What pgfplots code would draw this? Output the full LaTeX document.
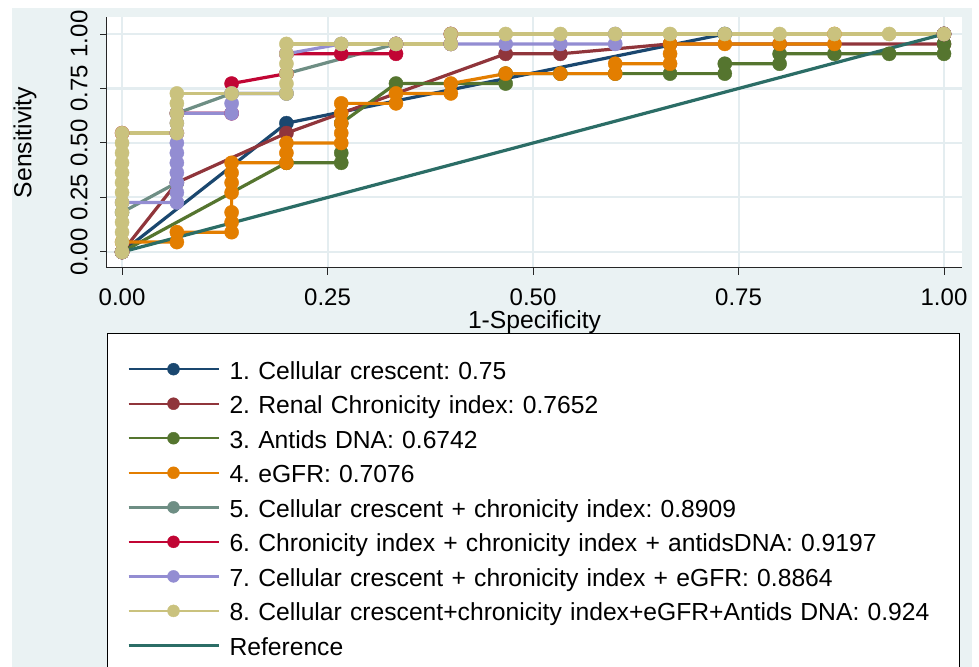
\documentclass[border=0pt]{standalone}
\usepackage{pgfplots}
\pgfplotsset{compat=1.18}
\usepackage{fontspec}
\setmainfont{Liberation Sans}
\definecolor{c1}{HTML}{1A476F}
\definecolor{c2}{HTML}{90353B}
\definecolor{c3}{HTML}{55752F}
\definecolor{c4}{HTML}{E37E00}
\definecolor{c5}{HTML}{6E8E84}
\definecolor{c6}{HTML}{C10534}
\definecolor{c7}{HTML}{938DD2}
\definecolor{c8}{HTML}{CAC27E}
\definecolor{cref}{HTML}{2B6D66}
\definecolor{bgc}{HTML}{EAF2F3}
\definecolor{gridc}{HTML}{E4EDF0}
\tikzset{roc/.style={line width=2.4pt, mark=*, mark size=5.3pt, color=#1, mark options={solid, fill=#1, draw=#1, line width=0.3pt}}}
\begin{document}
\frenchspacing
\begin{tikzpicture}
\path[use as bounding box] (0,0) rectangle (734.25pt,500.25pt);
\fill[white] (0,0) rectangle (734.25pt,500.25pt);
\fill[bgc] (9pt,-40pt) rectangle (729pt,494.25pt);
\begin{axis}[
  at={(80.25pt,299.25pt)}, anchor=south west,
  scale only axis, width=641.25pt, height=188.25pt,
  xmin=-0.0183, xmax=1.0219, ymin=-0.0734, ymax=1.078,
  axis background/.style={fill=white},
  axis x line*=bottom, axis y line*=left,
  axis line style={line width=0.75pt, black!85},
  tick align=outside, major tick length=5pt,
  every tick/.style={line width=0.75pt, black!85},
  xtick={0,0.25,0.5,0.75,1}, ytick={0,0.25,0.5,0.75,1},
  xticklabels={0.00,0.25,0.50,0.75,1.00},
  yticklabels={0.00,0.25,0.50,0.75,1.00},
  /pgf/number format/assume math mode=true,
  ticklabel style={font=\fontsize{18pt}{21pt}\selectfont},
  yticklabel style={rotate=90, anchor=south},
  yticklabel shift=6pt, xticklabel shift=7pt,
  grid=major, major grid style={color=gridc, line width=1.5pt},
  every axis y label/.style={at={(axis description cs:-0.0959,0.5)}, rotate=90, anchor=center, font=\fontsize{18.5pt}{22pt}\selectfont},
  every axis x label/.style={at={(axis description cs:0.5,-0.2152)}, anchor=center, font=\fontsize{18.5pt}{22pt}\selectfont},
  xlabel={1-Specificity}, ylabel={Sensitivity},
  legend cell align=left,
  legend image code/.code={
    \path[draw=none, fill=none, use as bounding box] (0pt,-3pt) rectangle (91.5pt,9pt);
    \draw[mark repeat=2,mark phase=2,#1, line width=1.8pt, mark size=4.5pt] plot coordinates {(15.75pt,3pt) (49.5pt,3pt) (83.25pt,3pt)};
  },
  legend style={
    at={(rel axis cs:0,0)}, anchor=north west, yshift=-48.75pt,
    draw=black, line width=0.75pt, fill=white,
    inner xsep=0pt, inner ysep=20.75pt,
    row sep=8.4pt, column sep=0pt,
    font=\fontsize{18.5pt}{22pt}\selectfont,
    nodes={inner sep=0pt, text height=13pt, text depth=4pt, text width=547.5pt, align=left},
  },
]
% 1. Cellular crescent
\addplot[roc=c1] coordinates {
(0,0) (0.2,0.5909) (0.7333,1) (1,1)};
\addlegendentry{1. Cellular crescent: 0.75}
% 2. Renal chronicity index
\addplot[roc=c2] coordinates {
(0,0) (0.0667,0.3182) (0.2,0.5455) (0.4667,0.9091) (0.5333,0.9091) (0.6667,0.9545) (0.8,0.9545) (1,0.9545) (1,1)};
\addlegendentry{2. Renal Chronicity index: 0.7652}
% 3. Antids DNA
\addplot[roc=c3] coordinates {
(0,0) (0.2,0.4091) (0.2667,0.4091) (0.2667,0.4545) (0.2667,0.5909) (0.3333,0.7727) (0.4667,0.7727) (0.4667,0.8182) (0.5333,0.8182) (0.6,0.8182) (0.6667,0.8182) (0.7333,0.8182) (0.7333,0.8636) (0.8,0.8636) (0.8,0.9091) (0.8667,0.9091) (0.9333,0.9091) (1,0.9091) (1,0.9545) (1,1)};
\addlegendentry{3. Antids DNA: 0.6742}
% 4. eGFR
\addplot[roc=c4] coordinates {
(0,0) (0,0.0455) (0.0667,0.0455) (0.0667,0.0909) (0.1333,0.0909) (0.1333,0.1364) (0.1333,0.1818) (0.1333,0.2727) (0.1333,0.3182) (0.1333,0.3636) (0.1333,0.4091) (0.2,0.4091) (0.2,0.4545) (0.2,0.5) (0.2667,0.5) (0.2667,0.5455) (0.2667,0.5909) (0.2667,0.6364) (0.2667,0.6818) (0.3333,0.6818) (0.3333,0.7273) (0.4,0.7273) (0.4,0.7727) (0.4667,0.8182) (0.5333,0.8182) (0.6,0.8182) (0.6,0.8636) (0.6667,0.8636) (0.6667,0.9091) (0.6667,0.9545) (0.7333,0.9545) (0.8,0.9545) (0.8667,0.9545) (0.8667,1) (1,1)};
\addlegendentry{4. eGFR: 0.7076}
% 5. Cellular crescent + chronicity index
\addplot[roc=c5] coordinates {
(0,0) (0,0.1818) (0.0667,0.3182) (0.0667,0.6364) (0.1333,0.7273) (0.2,0.7273) (0.2,0.8182) (0.3333,0.9545) (0.4,0.9545) (0.4,1) (1,1)};
\addlegendentry{5. Cellular crescent + chronicity index: 0.8909}
% 6. Chronicity index + chronicity index + antidsDNA
\addplot[roc=c6] coordinates {
(0,0) (0,0.5455) (0.0667,0.5455) (0.0667,0.6364) (0.1333,0.6364) (0.1333,0.7727) (0.2,0.8182) (0.2,0.9091) (0.2667,0.9091) (0.3333,0.9091) (0.3333,0.9545) (0.4,0.9545) (0.4,1) (1,1)};
\addlegendentry{6. Chronicity index + chronicity index + antidsDNA: 0.9197}
% 7. Cellular crescent + chronicity index + eGFR
\addplot[roc=c7] coordinates {
(0,0) (0,0.2273) (0.0667,0.2273) (0.0667,0.2727) (0.0667,0.3182) (0.0667,0.3636) (0.0667,0.4091) (0.0667,0.4545) (0.0667,0.5) (0.0667,0.5455) (0.0667,0.5909) (0.0667,0.6364) (0.1333,0.6364) (0.1333,0.6818) (0.1333,0.7273) (0.2,0.7273) (0.2,0.9091) (0.2667,0.9545) (0.3333,0.9545) (0.4,0.9545) (0.4667,0.9545) (0.5333,0.9545) (0.6,0.9545) (0.6,1) (1,1)};
\addlegendentry{7. Cellular crescent + chronicity index + eGFR: 0.8864}
% 8. Cellular crescent+chronicity index+eGFR+Antids DNA
\addplot[roc=c8] coordinates {
(0,0) (0,0.0455) (0,0.0909) (0,0.1364) (0,0.1818) (0,0.2273) (0,0.2727) (0,0.3182) (0,0.3636) (0,0.4091) (0,0.4545) (0,0.5) (0,0.5455) (0.0667,0.5455) (0.0667,0.5909) (0.0667,0.6364) (0.0667,0.6818) (0.0667,0.7273) (0.1333,0.7273) (0.2,0.7273) (0.2,0.7727) (0.2,0.8182) (0.2,0.8636) (0.2,0.9091) (0.2,0.9545) (0.2667,0.9545) (0.3333,0.9545) (0.4,0.9545) (0.4,1) (0.4667,1) (0.5333,1) (0.6,1) (0.6667,1) (0.7333,1) (0.8,1) (0.8667,1) (0.9333,1) (1,1)};
\addlegendentry{8. Cellular crescent+chronicity index+eGFR+Antids DNA: 0.924}
% Reference
\addplot[cref, line width=2.4pt, no marks] coordinates {(0,0) (1,1)};
\addlegendentry{Reference}
\end{axis}
\end{tikzpicture}
\end{document}
